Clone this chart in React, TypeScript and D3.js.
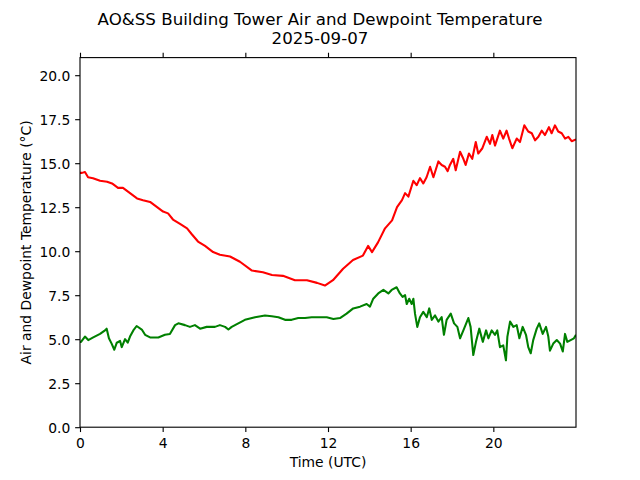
import { useEffect, useRef } from "react";
import * as d3 from "d3";

// air temperature (red), hours UTC and degC
const airHours = [
  0.0, 0.1, 0.24, 0.39, 0.63, 0.97, 1.31, 1.55, 1.84, 2.08, 2.42, 2.76, 3.05, 3.39, 3.73,
  4.02, 4.26, 4.5, 4.84, 5.18, 5.42, 5.71, 6.05, 6.44, 6.77, 7.26, 7.74, 8.32, 8.85, 9.29,
  9.82, 10.4, 10.98, 11.47, 11.85, 12.24, 12.73, 13.21, 13.69, 13.94, 14.13, 14.42, 14.76,
  15.1, 15.34, 15.58, 15.73, 15.89, 16.13, 16.29, 16.45, 16.61, 16.77, 16.94, 17.1, 17.34,
  17.5, 17.66, 17.79, 17.9, 18.06, 18.18, 18.39, 18.55, 18.66, 18.82, 18.98, 19.15, 19.27,
  19.47, 19.68, 19.84, 19.95, 20.08, 20.32, 20.48, 20.64, 20.76, 20.92, 21.13, 21.29, 21.5,
  21.69, 21.86, 22.02, 22.18, 22.34, 22.5, 22.69, 22.82, 22.98, 23.14, 23.31, 23.47, 23.63,
  23.79, 24.0,
];
const airTemp = [
  14.45, 14.45, 14.5, 14.2, 14.15, 14.0, 13.95, 13.85, 13.6, 13.6, 13.3, 13.0, 12.9, 12.8, 12.5,
  12.25, 12.15, 11.8, 11.55, 11.3, 10.95, 10.55, 10.3, 9.95, 9.8, 9.7, 9.4, 8.9, 8.8, 8.65,
  8.6, 8.35, 8.35, 8.2, 8.05, 8.35, 9.0, 9.5, 9.75, 10.3, 9.95, 10.5, 11.3,
  11.75, 12.5, 12.9, 13.3, 13.1, 14.0, 13.75, 14.15, 13.85, 14.2, 14.8, 14.2, 15.1,
  14.9, 14.8, 14.55, 14.9, 15.25, 14.6, 15.65, 15.25, 14.9, 15.55, 15.25, 16.2, 15.55,
  15.85, 16.5, 16.1, 16.6, 16.0, 16.85, 16.4, 16.85, 16.4, 15.85, 16.4, 16.2, 17.15,
  16.8, 16.7, 16.3, 16.5, 16.85, 16.6, 17.05, 16.7, 17.15, 16.8, 16.7, 16.4, 16.5,
  16.25, 16.35,
];

// dewpoint (green)
const dewHours = [
  0.0, 0.05, 0.24, 0.4, 0.64, 0.97, 1.21, 1.29, 1.4, 1.53, 1.66, 1.78, 1.94, 2.02, 2.18,
  2.31, 2.42, 2.58, 2.74, 2.99, 3.15, 3.39, 3.79, 4.11, 4.35, 4.6, 4.76, 5.08, 5.32, 5.56,
  5.81, 6.13, 6.53, 6.77, 7.02, 7.18, 7.34, 7.66, 7.98, 8.47, 8.95, 9.28, 9.6, 9.92, 10.24,
  10.56, 10.89, 11.21, 11.53, 11.77, 11.94, 12.26, 12.58, 12.9, 13.22, 13.55, 13.87, 14.03,
  14.19, 14.43, 14.68, 14.92, 15.08, 15.32, 15.48, 15.61, 15.73, 15.81, 15.93, 16.05, 16.13,
  16.21, 16.32, 16.45, 16.61, 16.78, 16.9, 17.02, 17.18, 17.34, 17.5, 17.61, 17.74, 17.94,
  18.1, 18.26, 18.39, 18.55, 18.79, 18.9, 19.03, 19.16, 19.32, 19.49, 19.65, 19.76, 19.92,
  20.08, 20.19, 20.32, 20.48, 20.61, 20.68, 20.81, 20.97, 21.13, 21.26, 21.42, 21.58, 21.69,
  21.81, 21.93, 22.1, 22.22, 22.39, 22.55, 22.66, 22.74, 22.9, 23.07, 23.23, 23.36, 23.47,
  23.58, 23.74, 23.9, 24.0,
];
const dewTemp = [
  4.85, 4.85, 5.15, 4.95, 5.1, 5.3, 5.5, 5.6, 5.05, 4.75, 4.4, 4.8, 4.9, 4.55, 5.0,
  4.8, 5.15, 5.5, 5.75, 5.55, 5.25, 5.1, 5.1, 5.25, 5.3, 5.8, 5.9, 5.8, 5.7, 5.8,
  5.6, 5.7, 5.7, 5.8, 5.7, 5.55, 5.7, 5.9, 6.1, 6.25, 6.35, 6.3, 6.25, 6.1, 6.1,
  6.2, 6.2, 6.25, 6.25, 6.25, 6.25, 6.15, 6.2, 6.45, 6.75, 6.85, 7.0, 6.85,
  7.3, 7.6, 7.8, 7.6, 7.8, 7.95, 7.6, 7.4, 7.5, 7.0, 7.3, 7.0, 7.3,
  6.45, 5.7, 6.25, 6.55, 6.25, 6.75, 6.1, 6.35, 6.0, 6.25, 5.25, 6.1, 6.45,
  5.9, 5.7, 5.05, 5.5, 6.2, 5.7, 4.1, 4.85, 5.6, 4.85, 5.5, 5.05, 5.5,
  5.25, 5.5, 4.55, 4.65, 3.8, 5.15, 6.0, 5.7, 5.8, 5.05, 5.7, 5.25, 4.55,
  4.2, 4.95, 5.6, 5.9, 5.3, 5.7, 5.15, 4.35, 4.75, 4.95, 4.75, 4.3, 5.3,
  4.85, 4.95, 5.05, 5.25,
];

const xTicks = [0, 4, 8, 12, 16, 20];
const yTicks = [0, 2.5, 5, 7.5, 10, 12.5, 15, 17.5, 20];

const titleLines = ["AO&SS Building Tower Air and Dewpoint Temperature", "2025-09-07"];
const xLabel = "Time (UTC)";
const yLabel = "Air and Dewpoint Temperature (°C)";

const width = 640;
const height = 480;
const font = "DejaVu Sans, sans-serif";

export default function App() {
  const svgRef = useRef<SVGSVGElement | null>(null);

  useEffect(() => {
    if (!svgRef.current) return;
    document.body.style.margin = "0";
    const svg = d3.select(svgRef.current);
    svg.selectAll("*").remove();

    const left = 80, right = 576, top = 57.6, bottom = 427.2;
    const x = d3.scaleLinear().domain([0, 24]).range([left, right]);
    const y = d3.scaleLinear().domain([0, 21]).range([bottom, top]);

    svg.append("rect").attr("width", width).attr("height", height).attr("fill", "#fff");

    svg.append("clipPath").attr("id", "plot-clip")
      .append("rect")
      .attr("x", left).attr("y", top)
      .attr("width", right - left).attr("height", bottom - top);

    const line = d3.line<[number, number]>()
      .x(d => x(d[0]))
      .y(d => y(d[1]));

    const series = [
      { hours: airHours, temps: airTemp, color: "#ff0000" },
      { hours: dewHours, temps: dewTemp, color: "#008000" },
    ];
    series.forEach(s => {
      const pts = s.hours.map((h, i) => [h, s.temps[i]] as [number, number]);
      svg.append("path")
        .datum(pts)
        .attr("clip-path", "url(#plot-clip)")
        .attr("fill", "none")
        .attr("stroke", s.color)
        .attr("stroke-width", 2.08)
        .attr("stroke-linejoin", "round")
        .attr("d", line);
    });

    // spines
    svg.append("rect")
      .attr("x", left).attr("y", top)
      .attr("width", right - left).attr("height", bottom - top)
      .attr("fill", "none").attr("stroke", "#000").attr("stroke-width", 1.11);

    const tickLen = 4.86;

    // bottom axis
    const gx = svg.append("g")
      .attr("transform", `translate(0,${bottom})`)
      .call(d3.axisBottom(x).tickValues(xTicks).tickSize(tickLen).tickSizeOuter(0)
        .tickFormat(d => String(d)));
    gx.select(".domain").remove();
    gx.selectAll("line").attr("stroke", "#000").attr("stroke-width", 1.11);
    gx.selectAll("text")
      .attr("y", 20.8).attr("dy", null)
      .attr("fill", "#000")
      .style("font-family", font).style("font-size", "13.89px");

    // top ticks, no labels
    const gt = svg.append("g")
      .attr("transform", `translate(0,${top})`)
      .call(d3.axisTop(x).tickValues(xTicks).tickSize(tickLen).tickSizeOuter(0)
        .tickFormat(() => ""));
    gt.select(".domain").remove();
    gt.selectAll("line").attr("stroke", "#000").attr("stroke-width", 1.11);

    // left axis
    const gy = svg.append("g")
      .attr("transform", `translate(${left},0)`)
      .call(d3.axisLeft(y).tickValues(yTicks).tickSize(tickLen).tickSizeOuter(0)
        .tickFormat(d3.format(".1f")));
    gy.select(".domain").remove();
    gy.selectAll("line").attr("stroke", "#000").attr("stroke-width", 1.11);
    gy.selectAll("text")
      .attr("x", -9.72).attr("dy", "0.36em")
      .attr("fill", "#000")
      .style("font-family", font).style("font-size", "13.89px");

    // labels
    svg.append("text")
      .attr("x", (left + right) / 2).attr("y", 467)
      .attr("text-anchor", "middle")
      .style("font-family", font).style("font-size", "13.89px")
      .text(xLabel);

    svg.append("text")
      .attr("transform", `translate(31,${(top + bottom) / 2}) rotate(-90)`)
      .attr("text-anchor", "middle")
      .style("font-family", font).style("font-size", "13.89px")
      .text(yLabel);

    svg.append("g").selectAll("text")
      .data(titleLines)
      .join("text")
      .attr("x", width / 2)
      .attr("y", (_, i) => 24.5 + i * 19.5)
      .attr("text-anchor", "middle")
      .style("font-family", font).style("font-size", "16.67px")
      .text(d => d);
  }, []);

  return <svg ref={svgRef} width={width} height={height} style={{ display: "block" }} />;
}
